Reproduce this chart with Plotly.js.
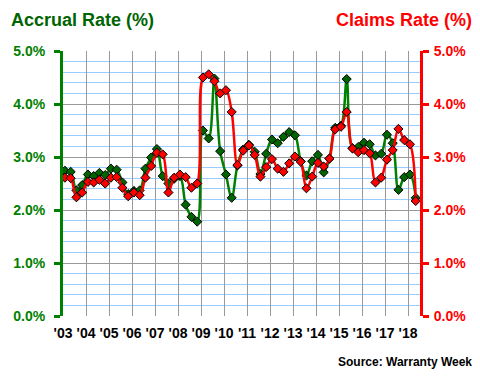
<!DOCTYPE html>
<html>
<head>
<meta charset="utf-8">
<script src="https://cdn.plot.ly/plotly-3.0.1.min.js"></script>
<style>html,body{margin:0;padding:0;background:#fff}#chart{width:480px;height:380px}</style>
</head>
<body>
<div id="chart"></div>
<script>
// Quarterly data, 2003 Q1 .. 2018 Q2
var startYear = 2003;
var accrualRate = [
  2.74, 2.72, 2.37, 2.47, 2.67, 2.64, 2.70, 2.66, 2.78, 2.76,
  2.52, 2.30, 2.36, 2.37, 2.78, 2.99, 3.15, 2.64, 2.50, 2.59,
  2.64, 2.10, 1.87, 1.78, 3.50, 3.35, 4.48, 3.11, 2.67, 2.23,
  2.84, 3.14, 3.23, 3.10, 2.68, 3.06, 3.33, 3.26, 3.38, 3.47,
  3.41, 2.92, 2.65, 2.92, 3.04, 2.71, 2.97, 3.55, 3.59, 4.47,
  3.17, 3.19, 3.27, 3.24, 3.03, 3.06, 3.42, 3.26, 2.38, 2.62,
  2.67, 2.23
];
var claimsRate = [
  2.61, 2.60, 2.24, 2.33, 2.53, 2.52, 2.57, 2.50, 2.61, 2.62,
  2.42, 2.26, 2.33, 2.28, 2.61, 2.83, 3.08, 3.05, 2.33, 2.61,
  2.67, 2.62, 2.42, 2.50, 4.50, 4.56, 4.43, 4.20, 4.26, 3.85,
  2.85, 3.12, 3.22, 3.04, 2.63, 2.81, 2.96, 2.78, 2.72, 2.88,
  3.01, 2.91, 2.41, 2.63, 2.89, 2.82, 2.97, 3.52, 3.57, 3.85,
  3.16, 3.09, 3.13, 3.07, 2.52, 2.61, 2.95, 3.13, 3.53, 3.32,
  3.24, 2.17
];
var yearTicks = [2003,2004,2005,2006,2007,2008,2009,2010,2011,2012,2013,2014,2015,2016,2017,2018];
var yearLabels = ["'03","'04","'05","'06","'07","'08","'09","'10","'11","'12","'13","'14","'15","'16","'17","'18"];

var xq = accrualRate.map(function(_, i){ return startYear + i/4 + 1/12; });

var FONT = 'Liberation Sans, Arial, sans-serif';
var GREEN = '#008000', DKGREEN = '#006400', RED = '#ff0000';

var traces = [
  {
    x: xq, y: claimsRate, yaxis: 'y2', type: 'scatter', mode: 'lines+markers',
    line: {color: RED, width: 2.5, shape: 'spline', smoothing: 1},
    marker: {symbol: 'diamond', size: 7, color: RED, line: {color: '#000', width: 1}},
    hoverinfo: 'skip'
  },
  {
    x: xq, y: accrualRate, yaxis: 'y', type: 'scatter', mode: 'lines+markers',
    line: {color: GREEN, width: 2.5, shape: 'spline', smoothing: 1},
    marker: {symbol: 'diamond', size: 7, color: DKGREEN, line: {color: '#000', width: 1}},
    hoverinfo: 'skip'
  }
];

var layout = {
  width: 480, height: 380,
  margin: {l: 63, r: 60, t: 51, b: 64, pad: 0},
  paper_bgcolor: '#fff', plot_bgcolor: '#fff',
  showlegend: false,
  font: {family: FONT},
  xaxis: {
    range: [2003, 2018.52], tickvals: yearTicks, ticktext: yearLabels,
    showgrid: true, gridcolor: '#999999', gridwidth: 1,
    zeroline: false, showline: false, ticks: '', ticklabelstandoff: 7,
    tickfont: {family: FONT, size: 14, color: '#000', weight: 'bold'},
    fixedrange: true
  },
  yaxis: {
    range: [0, 5], dtick: 1, tickformat: '.1f', ticksuffix: '%',
    showgrid: true, gridcolor: '#999999', gridwidth: 1,
    minor: {dtick: 0.2, showgrid: true, gridcolor: '#99ccff', gridwidth: 1},
    zeroline: false, showline: true, linecolor: GREEN, linewidth: 3,
    ticks: 'outside', ticklen: 6, tickwidth: 3, tickcolor: GREEN, ticklabelstandoff: 6,
    tickfont: {family: FONT, size: 14, color: GREEN, weight: 'bold'},
    fixedrange: true
  },
  yaxis2: {
    range: [0, 5], dtick: 1, tickformat: '.1f', ticksuffix: '%',
    overlaying: 'y', side: 'right', showgrid: false, zeroline: false,
    showline: true, linecolor: RED, linewidth: 3,
    ticks: 'outside', ticklen: 6, tickwidth: 3, tickcolor: RED, ticklabelstandoff: 2,
    tickfont: {family: FONT, size: 14, color: RED, weight: 'bold'},
    fixedrange: true
  },
  annotations: [
    {text: '<b>Accrual Rate (%)</b>', xref: 'paper', yref: 'paper',
     x: (9-63)/357, y: (316-20)/265, xanchor: 'left', yanchor: 'middle',
     showarrow: false, font: {family: FONT, size: 18, color: DKGREEN}},
    {text: '<b>Claims Rate (%)</b>', xref: 'paper', yref: 'paper',
     x: (474-63)/357, y: (316-20)/265, xanchor: 'right', yanchor: 'middle',
     showarrow: false, font: {family: FONT, size: 18, color: RED}},
    {text: '<b>Source: Warranty Week</b>', xref: 'paper', yref: 'paper',
     x: (474-63)/357, y: (316-362)/265, xanchor: 'right', yanchor: 'middle',
     showarrow: false, font: {family: FONT, size: 12, color: '#000'}}
  ]
};

Plotly.newPlot('chart', traces, layout, {displayModeBar: false, staticPlot: true});
</script>
</body>
</html>
